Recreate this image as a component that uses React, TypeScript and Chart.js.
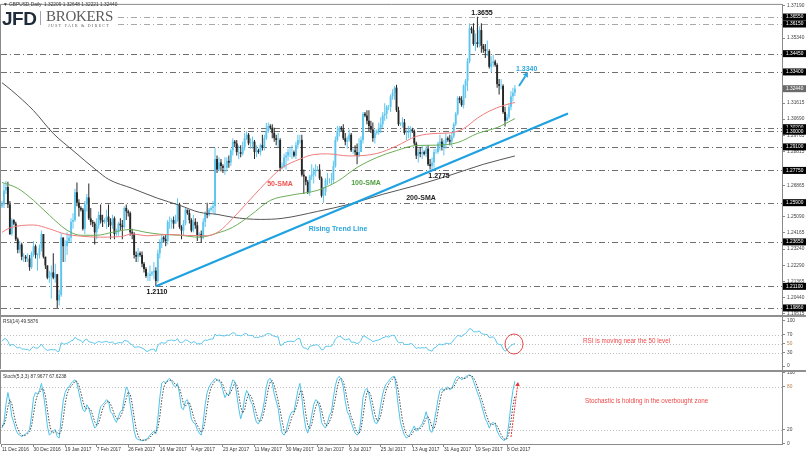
import React, { useEffect, useRef } from 'react';
import { Chart, registerables } from 'chart.js';

Chart.register(...registerables);

// ---------------- DATA ----------------
// x axis: one slot per daily bar (Sunday bars included), labels every 16 bars
const xTickBars = [0, 16, 32, 48, 64, 80, 96, 112, 128, 144, 160, 176, 192, 208, 224, 240, 256];
const xTickLabels = ['11 Dec 2016', '30 Dec 2016', '19 Jan 2017', '7 Feb 2017', '26 Feb 2017', '16 Mar 2017', '4 Apr 2017', '23 Apr 2017', '11 May 2017', '30 May 2017', '18 Jun 2017', '6 Jul 2017', '25 Jul 2017', '13 Aug 2017', '31 Aug 2017', '19 Sep 2017', '8 Oct 2017'];

// GBPUSD daily candles (each bar opens at the previous close)
const firstOpen = 1.2570;
const closes = [
  1.2580, 1.2660, 1.2680, 1.2580, 1.2410, 1.2490,
  1.2470, 1.2380, 1.2320, 1.2350, 1.2280, 1.2280,
  1.2270, 1.2270, 1.2220, 1.2300, 1.2340,
  1.2290, 1.2290, 1.2330, 1.2410, 1.2280,
  1.2230, 1.2160, 1.2170, 1.2190, 1.2160, 1.2180,
  1.2030, 1.2060, 1.2390, 1.2340, 1.2340, 1.2370,
  1.2390, 1.2480, 1.2490, 1.2650, 1.2590, 1.2560,
  1.2550, 1.2440, 1.2580, 1.2620, 1.2500, 1.2480,
  1.2470, 1.2420, 1.2460, 1.2520, 1.2490, 1.2480,
  1.2490, 1.2510, 1.2480, 1.2460, 1.2500, 1.2410,
  1.2420, 1.2470, 1.2460, 1.2450, 1.2560, 1.2540,
  1.2530, 1.2420, 1.2410, 1.2290, 1.2280, 1.2300,
  1.2290, 1.2240, 1.2210, 1.2170, 1.2170, 1.2180,
  1.2190, 1.2200, 1.2140, 1.2300, 1.2360, 1.2390,
  1.2380, 1.2370, 1.2480, 1.2480, 1.2490, 1.2470,
  1.2490, 1.2580, 1.2450, 1.2430, 1.2470, 1.2550,
  1.2530, 1.2490, 1.2430, 1.2480, 1.2460, 1.2400,
  1.2410, 1.2390, 1.2480, 1.2530, 1.2520, 1.2550,
  1.2560, 1.2570, 1.2840, 1.2780, 1.2820, 1.2800,
  1.2790, 1.2790, 1.2830, 1.2820, 1.2890, 1.2940,
  1.2930, 1.2880, 1.2880, 1.2870, 1.2910, 1.2960,
  1.2980, 1.2930, 1.2930, 1.2940, 1.2880, 1.2890,
  1.2880, 1.2920, 1.2910, 1.2960, 1.3000, 1.3030,
  1.3020, 1.2990, 1.2960, 1.2950, 1.2950, 1.2790,
  1.2800, 1.2850, 1.2860, 1.2880, 1.2880, 1.2880,
  1.2860, 1.2920, 1.2950, 1.2950, 1.2750, 1.2740,
  1.2710, 1.2650, 1.2740, 1.2750, 1.2770, 1.2780,
  1.2780, 1.2730, 1.2630, 1.2650, 1.2720, 1.2720,
  1.2720, 1.2720, 1.2800, 1.2950, 1.3000, 1.3020,
  1.3010, 1.2960, 1.2940, 1.2950, 1.2980, 1.2890,
  1.2890, 1.2880, 1.2860, 1.2880, 1.2950, 1.3100,
  1.3090, 1.3060, 1.3030, 1.3010, 1.2960, 1.2990,
  1.3000, 1.3020, 1.3040, 1.3090, 1.3100, 1.3140,
  1.3140, 1.3200, 1.3220, 1.3250, 1.3120, 1.3040,
  1.3040, 1.3050, 1.2990, 1.2990, 1.2995, 1.3010,
  1.3000, 1.2930, 1.2860, 1.2880, 1.2870, 1.2880,
  1.2870, 1.2900, 1.2810, 1.2800, 1.2820, 1.2880,
  1.2880, 1.2930, 1.2940, 1.2910, 1.2930, 1.2960,
  1.2950, 1.2940, 1.2970, 1.3040, 1.3100, 1.3190,
  1.3180, 1.3150, 1.3260, 1.3290, 1.3400, 1.3590,
  1.3580, 1.3500, 1.3510, 1.3500, 1.3580, 1.3490,
  1.3470, 1.3460, 1.3460, 1.3370, 1.3390, 1.3400,
  1.3380, 1.3270, 1.3260, 1.3260, 1.3110, 1.3060,
  1.3080, 1.3140, 1.3200, 1.3221, 1.3244,
];
const highs = [
  1.2600, 1.2700, 1.2715, 1.2710, 1.2600, 1.2500,
  1.2495, 1.2480, 1.2390, 1.2370, 1.2360, 1.2300,
  1.2290, 1.2300, 1.2290, 1.2310, 1.2370,
  1.2350, 1.2300, 1.2350, 1.2430, 1.2410,
  1.2280, 1.2230, 1.2200, 1.2230, 1.2300, 1.2240,
  1.2180, 1.2090, 1.2415, 1.2390, 1.2375, 1.2420,
  1.2410, 1.2500, 1.2530, 1.2670, 1.2706, 1.2610,
  1.2570, 1.2560, 1.2600, 1.2640, 1.2700, 1.2560,
  1.2490, 1.2480, 1.2500, 1.2540, 1.2580, 1.2520,
  1.2500, 1.2550, 1.2580, 1.2500, 1.2520, 1.2510,
  1.2440, 1.2480, 1.2500, 1.2490, 1.2570, 1.2580,
  1.2550, 1.2540, 1.2440, 1.2420, 1.2310, 1.2330,
  1.2310, 1.2310, 1.2250, 1.2220, 1.2190, 1.2230,
  1.2200, 1.2250, 1.2220, 1.2320, 1.2380, 1.2410,
  1.2400, 1.2410, 1.2490, 1.2510, 1.2500, 1.2510,
  1.2520, 1.2615, 1.2590, 1.2460, 1.2490, 1.2560,
  1.2550, 1.2550, 1.2500, 1.2520, 1.2500, 1.2480,
  1.2420, 1.2430, 1.2500, 1.2540, 1.2590, 1.2560,
  1.2570, 1.2600, 1.2905, 1.2860, 1.2850, 1.2840,
  1.2810, 1.2850, 1.2850, 1.2860, 1.2900, 1.2960,
  1.2950, 1.2950, 1.2920, 1.2920, 1.2940, 1.2990,
  1.3000, 1.2990, 1.2960, 1.2970, 1.2950, 1.2920,
  1.2900, 1.2930, 1.2980, 1.2980, 1.3047, 1.3050,
  1.3040, 1.3040, 1.3020, 1.2980, 1.2990, 1.2960,
  1.2820, 1.2870, 1.2880, 1.2900, 1.2910, 1.2920,
  1.2890, 1.2940, 1.2980, 1.2980, 1.2980, 1.2780,
  1.2740, 1.2720, 1.2750, 1.2810, 1.2790, 1.2810,
  1.2800, 1.2810, 1.2740, 1.2680, 1.2730, 1.2760,
  1.2730, 1.2760, 1.2830, 1.2970, 1.3030, 1.3030,
  1.3030, 1.3040, 1.2990, 1.2970, 1.3010, 1.2990,
  1.2900, 1.2920, 1.2930, 1.2960, 1.2970, 1.3110,
  1.3110, 1.3120, 1.3120, 1.3060, 1.3050, 1.3010,
  1.3010, 1.3050, 1.3080, 1.3110, 1.3160, 1.3150,
  1.3150, 1.3210, 1.3240, 1.3260, 1.3267, 1.3140,
  1.3050, 1.3080, 1.3070, 1.3010, 1.3030, 1.3030,
  1.3020, 1.3010, 1.2940, 1.2900, 1.2910, 1.2920,
  1.2890, 1.2920, 1.2920, 1.2840, 1.2850, 1.2900,
  1.2900, 1.2940, 1.2980, 1.2960, 1.2950, 1.2990,
  1.2970, 1.2980, 1.2990, 1.3050, 1.3110, 1.3200,
  1.3200, 1.3200, 1.3270, 1.3300, 1.3420, 1.3620,
  1.3600, 1.3620, 1.3560, 1.3657, 1.3600, 1.3620,
  1.3500, 1.3500, 1.3520, 1.3470, 1.3430, 1.3440,
  1.3410, 1.3390, 1.3300, 1.3300, 1.3270, 1.3140,
  1.3100, 1.3160, 1.3230, 1.3250, 1.3265,
];
const lows = [
  1.2560, 1.2560, 1.2640, 1.2560, 1.2405, 1.2400,
  1.2460, 1.2370, 1.2300, 1.2300, 1.2260, 1.2250,
  1.2250, 1.2250, 1.2200, 1.2210, 1.2280,
  1.2270, 1.2200, 1.2270, 1.2310, 1.2270,
  1.2210, 1.2150, 1.2130, 1.2040, 1.2150, 1.2130,
  1.1986, 1.2000, 1.2050, 1.2250, 1.2250, 1.2290,
  1.2360, 1.2360, 1.2440, 1.2480, 1.2570, 1.2510,
  1.2540, 1.2430, 1.2410, 1.2540, 1.2490, 1.2460,
  1.2450, 1.2350, 1.2380, 1.2440, 1.2470, 1.2450,
  1.2470, 1.2440, 1.2450, 1.2380, 1.2440, 1.2380,
  1.2400, 1.2400, 1.2430, 1.2380, 1.2440, 1.2490,
  1.2510, 1.2400, 1.2380, 1.2270, 1.2250, 1.2250,
  1.2280, 1.2220, 1.2190, 1.2160, 1.2140, 1.2140,
  1.2170, 1.2150, 1.2109, 1.2130, 1.2270, 1.2330,
  1.2360, 1.2340, 1.2350, 1.2440, 1.2440, 1.2440,
  1.2470, 1.2480, 1.2440, 1.2380, 1.2400, 1.2460,
  1.2520, 1.2470, 1.2420, 1.2420, 1.2440, 1.2370,
  1.2390, 1.2360, 1.2380, 1.2450, 1.2500, 1.2510,
  1.2540, 1.2530, 1.2520, 1.2760, 1.2770, 1.2770,
  1.2760, 1.2750, 1.2770, 1.2790, 1.2800, 1.2860,
  1.2910, 1.2860, 1.2840, 1.2850, 1.2860, 1.2890,
  1.2950, 1.2920, 1.2900, 1.2900, 1.2840, 1.2850,
  1.2870, 1.2860, 1.2890, 1.2890, 1.2950, 1.2990,
  1.3010, 1.2960, 1.2940, 1.2920, 1.2910, 1.2770,
  1.2780, 1.2790, 1.2780, 1.2830, 1.2850, 1.2840,
  1.2850, 1.2840, 1.2900, 1.2930, 1.2740, 1.2640,
  1.2690, 1.2640, 1.2630, 1.2720, 1.2700, 1.2740,
  1.2770, 1.2720, 1.2620, 1.2589, 1.2630, 1.2690,
  1.2700, 1.2690, 1.2700, 1.2790, 1.2940, 1.2970,
  1.3000, 1.2950, 1.2920, 1.2900, 1.2940, 1.2880,
  1.2870, 1.2860, 1.2810, 1.2850, 1.2880, 1.2930,
  1.3080, 1.3040, 1.3000, 1.2990, 1.2940, 1.2930,
  1.2980, 1.2980, 1.2990, 1.3020, 1.3060, 1.3070,
  1.3120, 1.3110, 1.3180, 1.3180, 1.3110, 1.3030,
  1.3030, 1.3020, 1.2980, 1.2950, 1.2960, 1.2960,
  1.2990, 1.2920, 1.2840, 1.2820, 1.2850, 1.2840,
  1.2860, 1.2850, 1.2800, 1.2780, 1.2774, 1.2790,
  1.2870, 1.2870, 1.2890, 1.2890, 1.2860, 1.2900,
  1.2940, 1.2920, 1.2910, 1.2960, 1.3030, 1.3090,
  1.3160, 1.3140, 1.3130, 1.3190, 1.3230, 1.3390,
  1.3560, 1.3490, 1.3460, 1.3480, 1.3480, 1.3450,
  1.3450, 1.3420, 1.3430, 1.3360, 1.3340, 1.3370,
  1.3370, 1.3250, 1.3210, 1.3240, 1.3100, 1.3027,
  1.3060, 1.3070, 1.3120, 1.3170, 1.3202,
];

// moving averages (bar index -> price)
const sma50Bars = [0, 4, 16, 24, 32, 40, 50, 60, 66, 74, 84, 94, 104, 110, 117, 124, 131, 136, 142, 151, 158, 165, 176, 190, 200, 210, 220, 227, 234, 241, 247, 254, 260];
const sma50Values = [1.2420, 1.2445, 1.2462, 1.2440, 1.2410, 1.2398, 1.2392, 1.2395, 1.2410, 1.2400, 1.2408, 1.2402, 1.2400, 1.2425, 1.2500, 1.2586, 1.2672, 1.2730, 1.2790, 1.2840, 1.2866, 1.2870, 1.2858, 1.2872, 1.2915, 1.2970, 1.2987, 1.2990, 1.3015, 1.3075, 1.3115, 1.3147, 1.3165];
const sma100Bars = [0, 8, 16, 24, 33, 40, 48, 56, 65, 73, 80, 90, 100, 109, 117, 126, 136, 146, 160, 170, 180, 190, 200, 210, 220, 231, 241, 251, 260];
const sma100Values = [1.2706, 1.2672, 1.2603, 1.2518, 1.2432, 1.2403, 1.2403, 1.2420, 1.2436, 1.2420, 1.2409, 1.2403, 1.2392, 1.2415, 1.2449, 1.2518, 1.2603, 1.2632, 1.2661, 1.2712, 1.2792, 1.2849, 1.2889, 1.2918, 1.2920, 1.2935, 1.2987, 1.3021, 1.3072];
const sma200Bars = [0, 5, 16, 26, 36, 48, 54, 66, 79, 90, 100, 109, 117, 131, 142, 160, 176, 193, 210, 227, 244, 260];
const sma200Values = [1.3278, 1.3233, 1.3118, 1.2987, 1.2889, 1.2775, 1.2724, 1.2672, 1.2615, 1.2575, 1.2535, 1.2523, 1.2506, 1.2494, 1.2500, 1.2540, 1.2581, 1.2638, 1.2689, 1.2747, 1.2810, 1.2858];

// rising trend line (from the 1.2110 low)
const trendBars = [78, 286.9];
const trendValues = [1.2110, 1.3101];

// price axis
const priceTicks = [1.37190, 1.35340, 1.31615, 1.30690, 1.29765, 1.28815, 1.26865, 1.25090, 1.24165, 1.23240, 1.22290, 1.21365, 1.20440, 1.19515];
const levelPrices = [1.36550, 1.36150, 1.34450, 1.33400, 1.30200, 1.30000, 1.29100, 1.27750, 1.25900, 1.23650, 1.21100, 1.19860];
const lastPrice = 1.32440;

// RSI(14)
const rsi = [
  55, 60, 61, 55, 45, 48,
  47, 43, 40, 42, 38, 38,
  37, 37, 34, 40, 43,
  40, 40, 43, 49, 42,
  38, 35, 36, 37, 36, 37,
  32, 33, 52, 49, 49, 51,
  52, 56, 57, 64, 60, 58,
  57, 52, 58, 60, 54, 53,
  52, 50, 52, 55, 53, 53,
  54, 55, 53, 52, 54, 49,
  50, 52, 52, 51, 57, 56,
  55, 49, 48, 42, 42, 43,
  42, 40, 38, 33, 33, 36,
  37, 38, 32, 46, 50, 52,
  51, 51, 57, 57, 58, 56,
  57, 61, 53, 52, 54, 58,
  57, 54, 51, 54, 53, 49,
  50, 49, 55, 58, 57, 59,
  60, 60, 71, 67, 69, 68,
  67, 67, 69, 68, 71, 74,
  73, 68, 68, 67, 69, 72,
  72, 68, 68, 68, 63, 64,
  63, 66, 65, 68, 71, 72,
  71, 68, 66, 65, 65, 46,
  47, 52, 53, 55, 55, 55,
  54, 58, 61, 61, 46, 40,
  40, 36, 44, 45, 46, 47,
  47, 43, 36, 37, 44, 44,
  44, 44, 50, 60, 64, 66,
  65, 60, 58, 59, 61, 53,
  53, 52, 50, 52, 57, 67,
  66, 63, 60, 58, 54, 56,
  57, 58, 60, 63, 64, 66,
  64, 67, 68, 68, 58, 52,
  52, 53, 48, 48, 48, 50,
  49, 44, 39, 41, 40, 41,
  40, 42, 36, 35, 33, 40,
  42, 47, 49, 47, 48, 51,
  50, 49, 52, 58, 63, 68,
  67, 65, 70, 72, 77, 83,
  82, 76, 76, 76, 78, 72,
  71, 70, 70, 63, 64, 65,
  60, 50, 48, 48, 38, 33,
  36, 41, 46, 48, 50,
];
const rsiTicks = [0, 30, 50, 70, 100];
const rsiLevels = [30, 50, 70];

// Stochastic(5,3,3)
const stochMain = [
  22, 30, 55, 72, 58, 38,
  30, 20, 14, 12, 10, 12,
  14, 16, 20, 40, 65,
  72, 70, 75, 85, 70,
  50, 25, 12, 15, 18, 20,
  10, 8, 35, 60, 72, 78,
  80, 85, 88, 90, 85, 72,
  60, 48, 45, 55, 50, 40,
  30, 22, 25, 40, 52, 55,
  58, 62, 60, 45, 42, 35,
  30, 38, 45, 48, 65, 80,
  75, 55, 38, 18, 8, 6,
  5, 4, 5, 6, 8, 12,
  15, 18, 14, 35, 65, 85,
  88, 85, 90, 92, 88, 82,
  80, 85, 70, 50, 48, 60,
  62, 52, 35, 30, 28, 20,
  15, 12, 30, 55, 72, 80,
  85, 88, 92, 90, 88, 85,
  75, 65, 70, 68, 80, 90,
  88, 70, 50, 35, 45, 65,
  75, 70, 60, 55, 40, 30,
  28, 35, 45, 60, 80, 90,
  92, 85, 70, 60, 50, 30,
  15, 12, 18, 30, 40, 45,
  45, 60, 75, 85, 65, 40,
  22, 15, 25, 40, 55, 62,
  60, 50, 30, 25, 22, 30,
  40, 45, 65, 82, 92, 95,
  90, 80, 60, 45, 40, 30,
  22, 15, 12, 15, 35, 65,
  75, 78, 70, 55, 40, 30,
  28, 38, 55, 70, 80, 85,
  88, 92, 94, 95, 75, 50,
  30, 20, 12, 8, 10, 14,
  20, 25, 18, 20, 24, 28,
  35, 45, 35, 18, 16, 30,
  45, 62, 75, 78, 74, 78,
  80, 76, 78, 85, 92, 95,
  93, 90, 92, 94, 96, 97,
  95, 88, 80, 72, 65, 55,
  45, 35, 30, 22, 28, 30,
  28, 18, 12, 8, 5, 5,
  10, 30, 55, 75, 88,
];
const stochSignal = [
  25, 26, 36, 52, 62, 56,
  42, 29, 21, 15, 12, 11,
  12, 14, 17, 25, 42,
  59, 69, 72, 77, 77,
  68, 48, 29, 17, 15, 18,
  16, 13, 18, 34, 56, 70,
  77, 81, 84, 88, 88, 82,
  72, 60, 51, 49, 50, 48,
  40, 31, 26, 29, 39, 49,
  55, 58, 60, 56, 49, 41,
  36, 34, 38, 44, 53, 64,
  73, 70, 56, 37, 21, 11,
  6, 5, 5, 5, 6, 9,
  12, 15, 16, 22, 38, 62,
  79, 86, 88, 89, 90, 87,
  83, 82, 78, 68, 56, 53,
  57, 58, 50, 39, 31, 26,
  21, 16, 19, 32, 52, 69,
  79, 84, 88, 90, 90, 88,
  83, 75, 70, 68, 73, 79,
  86, 83, 69, 52, 43, 48,
  62, 70, 68, 62, 52, 42,
  33, 31, 36, 47, 62, 77,
  87, 89, 82, 72, 60, 47,
  32, 19, 15, 20, 29, 38,
  43, 50, 60, 73, 75, 63,
  42, 26, 21, 27, 40, 52,
  59, 57, 47, 35, 26, 26,
  31, 38, 50, 64, 80, 90,
  92, 88, 77, 62, 48, 38,
  31, 22, 16, 14, 21, 38,
  58, 73, 74, 68, 55, 42,
  33, 32, 40, 54, 68, 78,
  84, 88, 91, 94, 88, 73,
  52, 33, 21, 13, 10, 11,
  14, 20, 21, 21, 21, 24,
  29, 36, 38, 33, 23, 21,
  30, 46, 61, 72, 76, 77,
  77, 78, 78, 80, 85, 91,
  93, 93, 92, 92, 94, 96,
  96, 93, 88, 80, 72, 64,
  55, 45, 37, 29, 27, 27,
  29, 25, 19, 13, 8, 6,
  7, 15, 32, 53, 68,
];
const stochTicks = [0, 20, 80, 100];
const stochLevels = [20, 80];

// ---------------- LAYOUT / STYLE ----------------
const W = 806;
const X_MIN = -0.5;
const X_MAX = 395.4;
const AXIS_W = 24;
const F = '"Liberation Sans", Arial, sans-serif';
const TICK_FONT = { family: F, size: 4.8 };
const BULL = '#5ec6ee';
const BEAR = '#262626';
const MAIN_TOP = 0, MAIN_H = 322;
const RSI_TOP = 312, RSI_H = 62;
const ST_TOP = 366, ST_H = 89;

function txt(ctx: any, s: string, x: number, y: number, font: string, color: string, align: any = 'left') {
  ctx.save();
  ctx.font = font;
  ctx.fillStyle = color;
  ctx.textAlign = align;
  ctx.textBaseline = 'middle';
  ctx.fillText(s, x, y);
  ctx.restore();
}

function drawArrow(ctx: any, x1: number, y1: number, x2: number, y2: number, color: string, lw: number, head: number, dash: number[] = []) {
  ctx.save();
  ctx.strokeStyle = color;
  ctx.fillStyle = color;
  ctx.lineWidth = lw;
  const ang = Math.atan2(y2 - y1, x2 - x1);
  const bx = x2 - head * Math.cos(ang);
  const by = y2 - head * Math.sin(ang);
  ctx.setLineDash(dash);
  ctx.beginPath();
  ctx.moveTo(x1, y1);
  ctx.lineTo(bx, by);
  ctx.stroke();
  ctx.setLineDash([]);
  const w = head * 0.6;
  ctx.beginPath();
  ctx.moveTo(x2, y2);
  ctx.lineTo(bx + w * Math.sin(ang), by - w * Math.cos(ang));
  ctx.lineTo(bx - w * Math.sin(ang), by + w * Math.cos(ang));
  ctx.closePath();
  ctx.fill();
  ctx.restore();
}

function frameLeft(ctx: any, a: any, top = true) {
  ctx.save();
  ctx.strokeStyle = '#8a8a8a';
  ctx.lineWidth = 1;
  ctx.beginPath();
  ctx.moveTo(a.left - 0.5, a.bottom);
  ctx.lineTo(a.left - 0.5, a.top - 0.5);
  if (top) ctx.lineTo(a.right, a.top - 0.5);
  ctx.stroke();
  ctx.restore();
}

function yAxis(min: number, max: number, ticks: number[], fmt: (v: number) => string, colorFn?: (v: number) => string) {
  return {
    position: 'right',
    min,
    max,
    afterBuildTicks: (axis: any) => { axis.ticks = ticks.map((v) => ({ value: v })); },
    afterFit: (axis: any) => { axis.width = AXIS_W; },
    grid: { drawOnChartArea: false, drawTicks: true, tickLength: 3, color: '#8a8a8a' },
    border: { display: true, color: '#8a8a8a' },
    ticks: {
      autoSkip: false,
      padding: 2,
      font: TICK_FONT,
      color: (c: any) => (colorFn ? colorFn(c.tick.value) : '#444'),
      callback: (v: any) => fmt(Number(v)),
    },
  };
}

function xAxisHidden() {
  return { type: 'linear', min: X_MIN, max: X_MAX, display: false, offset: false };
}

// ---------------- CONFIGS ----------------
function mainConfig(): any {
  const opens = closes.map((c, i) => (i === 0 ? firstOpen : closes[i - 1]));
  const bodies = closes.map((c, i) => ({ x: i, y: [opens[i], c] }));
  const wicks = closes.map((c, i) => ({ x: i, y: [lows[i], highs[i]] }));
  const colors = closes.map((c, i) => (c >= opens[i] ? BULL : BEAR));
  const pts = (xs: number[], ys: number[]) => xs.map((x, i) => ({ x, y: ys[i] }));

  const deco = {
    id: 'mainDeco',
    beforeDatasetsDraw(chart: any) {
      const { ctx, chartArea: a, scales } = chart;
      const y = scales.y;
      ctx.save();
      ctx.lineWidth = 1;
      levelPrices.forEach((p, i) => {
        const py = Math.round(y.getPixelForValue(p)) + 0.5;
        ctx.strokeStyle = i < 2 ? '#a9a9a9' : '#707070';
        ctx.setLineDash([6, 3, 1, 3]);
        ctx.beginPath();
        ctx.moveTo(a.left, py);
        ctx.lineTo(a.right, py);
        ctx.stroke();
      });
      ctx.restore();
    },
    afterDraw(chart: any) {
      const { ctx, chartArea: a, scales } = chart;
      const y = scales.y;
      frameLeft(ctx, a, true);
      // level boxes on the price axis
      levelPrices.forEach((p) => {
        const py = y.getPixelForValue(p);
        ctx.fillStyle = '#000';
        ctx.fillRect(a.right + 1, py - 3.5, W - a.right - 1, 7);
        txt(ctx, p.toFixed(5), a.right + 4, py, `4.8px ${F}`, '#fff');
      });
      const lp = y.getPixelForValue(lastPrice);
      ctx.fillStyle = '#6a6a6a';
      ctx.fillRect(a.right + 1, lp - 3.5, W - a.right - 1, 7);
      txt(ctx, lastPrice.toFixed(5), a.right + 4, lp, `4.8px ${F}`, '#fff');

      // header & logo
      txt(ctx, '\u25BC GBPUSD,Daily  1.32209 1.32648 1.32221 1.32440', 3, 5, `4.8px ${F}`, '#333');
      ctx.fillStyle = '#fff';
      ctx.fillRect(a.left, 8, 115, 21);
      ctx.save();
      ctx.font = `bold 19px ${F}`;
      ctx.fillStyle = '#1d2b3a';
      ctx.textBaseline = 'alphabetic';
      (ctx as any).letterSpacing = '-0.5px';
      ctx.fillText('JFD', 2, 25);
      (ctx as any).letterSpacing = '0px';
      ctx.fillStyle = '#9aa7b4';
      ctx.fillRect(40, 11, 1, 14);
      ctx.font = `15px "Liberation Serif", "Times New Roman", serif`;
      ctx.fillStyle = '#5c5c5c';
      (ctx as any).letterSpacing = '-0.3px';
      ctx.fillText('BROKERS', 46, 21);
      ctx.font = `4.4px "Liberation Serif", serif`;
      (ctx as any).letterSpacing = '1.1px';
      ctx.fillStyle = '#666';
      ctx.fillText('JUST FAIR & DIRECT', 48, 27);
      ctx.restore();

      // annotations
      const B = `bold 7px ${F}`;
      txt(ctx, '1.3655', 482, 13, B, '#111', 'center');
      txt(ctx, '1.3340', 516, 69, B, '#2aa6de');
      drawArrow(ctx, 519, 86, 528, 72, '#2aa6de', 2, 5);
      txt(ctx, '1.2110', 157, 292, B, '#111', 'center');
      txt(ctx, '1.2775', 439, 176, B, '#111', 'center');
      txt(ctx, '50-SMA', 280, 184, B, '#ef5350', 'center');
      txt(ctx, '100-SMA', 366, 183, B, '#4f9f3f', 'center');
      txt(ctx, '200-SMA', 421, 198, B, '#222', 'center');
      txt(ctx, 'Rising Trend Line', 338, 229, B, '#2aa6de', 'center');
    },
  };

  return {
    type: 'bar',
    data: {
      datasets: [
        { type: 'line', data: pts(trendBars, trendValues), borderColor: '#1ea1e0', borderWidth: 2.2, pointRadius: 0, order: 0 },
        { type: 'line', data: pts(sma50Bars, sma50Values), borderColor: '#f07c7c', borderWidth: 1, pointRadius: 0, cubicInterpolationMode: 'monotone', order: 1 },
        { type: 'line', data: pts(sma100Bars, sma100Values), borderColor: '#6aae58', borderWidth: 1, pointRadius: 0, cubicInterpolationMode: 'monotone', order: 1 },
        { type: 'line', data: pts(sma200Bars, sma200Values), borderColor: '#555', borderWidth: 1, pointRadius: 0, cubicInterpolationMode: 'monotone', order: 1 },
        { type: 'bar', data: bodies, backgroundColor: colors, barThickness: 1.9, grouped: false, inflateAmount: 0, borderWidth: 0, order: 3 },
        { type: 'bar', data: wicks, backgroundColor: colors, barThickness: 1, grouped: false, inflateAmount: 0, borderWidth: 0, order: 4 },
      ],
    },
    options: {
      animation: false,
      responsive: false,
      events: [],
      layout: { padding: { left: 1, top: 4, bottom: 7, right: 0 } },
      plugins: { legend: { display: false }, tooltip: { enabled: false } },
      scales: {
        x: xAxisHidden(),
        y: yAxis(1.19456, 1.37247, priceTicks, (v) => v.toFixed(5)),
      },
    },
    plugins: [deco],
  };
}

function rsiConfig(): any {
  const deco = {
    id: 'rsiDeco',
    beforeDatasetsDraw(chart: any) {
      const { ctx, chartArea: a, scales } = chart;
      ctx.save();
      ctx.strokeStyle = '#bdbdbd';
      ctx.lineWidth = 1;
      ctx.setLineDash([1, 2]);
      rsiLevels.forEach((l) => {
        const py = Math.round(scales.y.getPixelForValue(l)) + 0.5;
        ctx.beginPath();
        ctx.moveTo(a.left, py);
        ctx.lineTo(a.right, py);
        ctx.stroke();
      });
      ctx.restore();
    },
    afterDraw(chart: any) {
      const { ctx, chartArea: a } = chart;
      frameLeft(ctx, a, false);
      txt(ctx, 'RSI(14) 49.5876', 3, 322 - RSI_TOP, `4.8px ${F}`, '#333');
      ctx.save();
      ctx.strokeStyle = '#e84848';
      ctx.lineWidth = 1;
      ctx.beginPath();
      ctx.ellipse(514, 344 - RSI_TOP, 9, 10, 0, 0, Math.PI * 2);
      ctx.stroke();
      ctx.restore();
      txt(ctx, 'RSI is moving near the 50 level', 583, 341 - RSI_TOP, `6.3px ${F}`, '#f04848');
    },
  };
  return {
    type: 'line',
    data: {
      datasets: [
        { data: rsi.map((v, i) => ({ x: i, y: v })), borderColor: '#5cc6ea', borderWidth: 1, pointRadius: 0 },
      ],
    },
    options: {
      animation: false,
      responsive: false,
      events: [],
      layout: { padding: { left: 1, top: 5, bottom: 4, right: 0 } },
      plugins: { legend: { display: false }, tooltip: { enabled: false } },
      scales: {
        x: xAxisHidden(),
        y: yAxis(-6.5, 108.7, rsiTicks, (v) => String(v), (v) => (v === 50 ? '#b9804f' : '#444')),
      },
    },
    plugins: [deco],
  };
}

function stochConfig(): any {
  const deco = {
    id: 'stDeco',
    beforeDatasetsDraw(chart: any) {
      const { ctx, chartArea: a, scales } = chart;
      ctx.save();
      ctx.strokeStyle = '#bdbdbd';
      ctx.lineWidth = 1;
      ctx.setLineDash([1, 2]);
      stochLevels.forEach((l) => {
        const py = Math.round(scales.y.getPixelForValue(l)) + 0.5;
        ctx.beginPath();
        ctx.moveTo(a.left, py);
        ctx.lineTo(a.right, py);
        ctx.stroke();
      });
      ctx.restore();
    },
    afterDraw(chart: any) {
      const { ctx, chartArea: a } = chart;
      frameLeft(ctx, a, false);
      txt(ctx, 'Stoch(5,3,3) 87.9677 67.6238', 3, 377 - ST_TOP, `4.8px ${F}`, '#333');
      txt(ctx, 'Stochastic is holding in the overbought zone', 585, 401 - ST_TOP, `6.3px ${F}`, '#f04848');
      drawArrow(ctx, 511, 437 - ST_TOP, 518, 382 - ST_TOP, '#e53935', 1, 4, [2, 1]);
    },
  };
  return {
    type: 'line',
    data: {
      datasets: [
        { data: stochMain.map((v, i) => ({ x: i, y: v })), borderColor: '#4cc3ea', borderWidth: 1, pointRadius: 0, order: 1 },
        { data: stochSignal.map((v, i) => ({ x: i, y: v })), borderColor: '#4a4a4a', borderWidth: 1, borderDash: [1.5, 1.5], pointRadius: 0, order: 0 },
      ],
    },
    options: {
      animation: false,
      responsive: false,
      events: [],
      layout: { padding: { left: 1, top: 6, bottom: 0, right: 0 } },
      plugins: { legend: { display: false }, tooltip: { enabled: false } },
      scales: {
        x: {
          type: 'linear',
          min: X_MIN,
          max: X_MAX,
          offset: false,
          afterBuildTicks: (axis: any) => { axis.ticks = xTickBars.map((v) => ({ value: v })); },
          afterFit: (axis: any) => { axis.height = 11; },
          grid: { drawOnChartArea: false, drawTicks: true, tickLength: 3, color: '#8a8a8a' },
          border: { display: true, color: '#8a8a8a' },
          ticks: {
            autoSkip: false,
            maxRotation: 0,
            minRotation: 0,
            align: 'start',
            padding: 0,
            font: TICK_FONT,
            color: '#333',
            callback: (v: any) => xTickLabels[xTickBars.indexOf(Number(v))] ?? '',
          },
        },
        y: yAxis(-0.4, 101, stochTicks, (v) => String(v), (v) => (v === 80 ? '#b9804f' : '#444')),
      },
    },
    plugins: [deco],
  };
}

// ---------------- COMPONENT ----------------
export default function App() {
  const mainRef = useRef<HTMLCanvasElement>(null);
  const rsiRef = useRef<HTMLCanvasElement>(null);
  const stRef = useRef<HTMLCanvasElement>(null);

  useEffect(() => {
    document.body.style.margin = '0';
    const charts = [
      new Chart(mainRef.current as HTMLCanvasElement, mainConfig()),
      new Chart(rsiRef.current as HTMLCanvasElement, rsiConfig()),
      new Chart(stRef.current as HTMLCanvasElement, stochConfig()),
    ];
    return () => charts.forEach((c) => c.destroy());
  }, []);

  const abs = (top: number, h: number): any => ({ position: 'absolute', left: 0, top, width: W, height: h });

  return (
    <div style={{ position: 'relative', width: W, height: 455, background: '#fff', overflow: 'hidden' }}>
      <canvas ref={mainRef} width={W} height={MAIN_H} style={abs(MAIN_TOP, MAIN_H)} />
      <canvas ref={rsiRef} width={W} height={RSI_H} style={abs(RSI_TOP, RSI_H)} />
      <canvas ref={stRef} width={W} height={ST_H} style={abs(ST_TOP, ST_H)} />
      <div style={{ position: 'absolute', left: 0, top: 315, width: W, height: 2, background: '#8f8f8f' }} />
      <div style={{ position: 'absolute', left: 0, top: 370, width: W, height: 2, background: '#8f8f8f' }} />
    </div>
  );
}
